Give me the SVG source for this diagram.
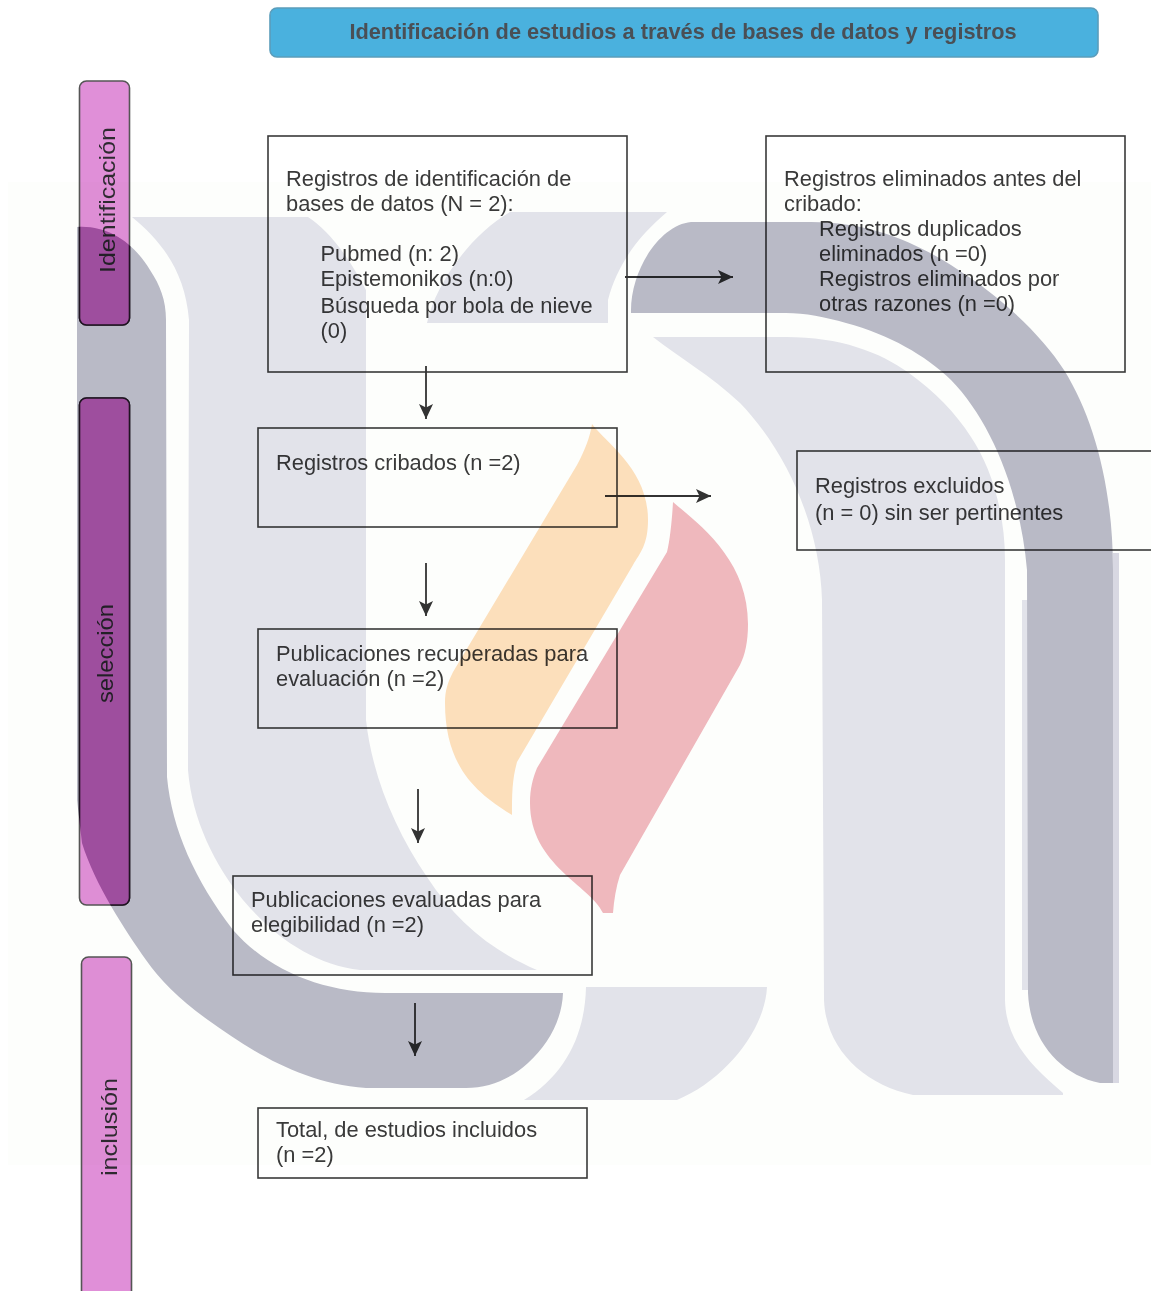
<svg xmlns="http://www.w3.org/2000/svg" width="1151" height="1291" viewBox="0 0 1151 1291">
<style>
.box{fill:none;stroke:#3a3a3a;stroke-width:1.6}
.bar{fill:#e08fd8;stroke:#555;stroke-width:1.6}
.bardark{fill:#da6acb;stroke:#2a1a2a;stroke-width:1.6}
text{font-family:"Liberation Sans",Arial,sans-serif;fill:#3a3a3a;font-size:21.85px}
.lbl{fill:#2e2a30;font-size:22.5px}
.head{font-weight:bold;font-size:21.75px;fill:#4a4f55}
.conn{stroke:#333;stroke-width:1.8;fill:none;marker-end:url(#arrow)}
.light{fill:#e2e3ea}
.dark{fill:#b9bac6}
</style>
<defs>
<marker id="arrow" markerUnits="userSpaceOnUse" markerWidth="16" markerHeight="16" refX="15" refY="7.500" orient="auto"><path d="M0,0.500 L15,7.500 L0,14.500 L3.500,7.500 Z" fill="#333"/></marker>
<path id="bandLeft" d="M77,227 C110,225 135,245 150,270 C160,285 166,300 166,320 L167,777 C172,830 195,880 233,930 C270,972 325,993 385,993 L563,993 C562,1020 548,1045 528,1063 C512,1078 490,1088 466,1088 L366,1088 C300,1083 250,1050 208,1020 C180,1000 160,980 146,960 C125,930 95,885 82,843 L77,800 Z"/>
<path id="bandRight" d="M631,313 C630,270 660,225 691,222 L811,222 C880,222 930,250 969,277 C1010,305 1045,340 1064,370 C1095,420 1113,490 1113,570 L1113,1083 L1100,1083 C1060,1075 1030,1040 1028,993 L1027,570 C1020,490 990,420 951,380 C925,355 890,335 846,323 C825,317 805,313 786,313 Z"/>
<clipPath id="bandClip"><use href="#bandLeft"/></clipPath>
</defs>
<rect width="1151" height="1291" fill="#ffffff"/>

<g id="header">
<rect x="270" y="8" width="828" height="49" rx="7" fill="#4ab1de" stroke="#5b9dbb" stroke-width="1.6"/>
<text class="head" x="683" y="39" text-anchor="middle">Identificación de estudios a través de bases de datos y registros</text>
</g>

<g id="bar-identificacion">
<rect class="bar" x="79.500" y="81" width="50" height="244" rx="7"/>
<rect class="bardark" x="79.500" y="81" width="50" height="244" rx="7" clip-path="url(#bandClip)"/>
<text class="lbl" transform="translate(115,273) rotate(-90)" textLength="146" lengthAdjust="spacingAndGlyphs">Identificación</text>
</g>
<g id="bar-seleccion">
<rect class="bar" x="79.500" y="398" width="50" height="507" rx="7"/>
<rect class="bardark" x="79.500" y="398" width="50" height="507" rx="7" clip-path="url(#bandClip)"/>
<text class="lbl" transform="translate(113,703) rotate(-90)" textLength="99" lengthAdjust="spacingAndGlyphs">selección</text>
</g>
<g id="bar-inclusion">
<rect class="bar" x="81.500" y="957" width="50" height="350" rx="7"/>
<text class="lbl" transform="translate(117,1176) rotate(-90)" textLength="98" lengthAdjust="spacingAndGlyphs">inclusión</text>
</g>

<g id="node-registros-identificacion">
<rect class="box" x="268" y="136" width="359" height="236"/>
<text x="286" y="186">Registros de identificación de</text>
<text x="286" y="211">bases de datos (N = 2):</text>
<text x="320.500" y="261">Pubmed (n: 2)</text>
<text x="320.500" y="286">Epistemonikos (n:0)</text>
<text x="320.500" y="313">Búsqueda por bola de nieve</text>
<text x="320.500" y="338">(0)</text>
</g>
<g id="node-registros-eliminados">
<rect class="box" x="766" y="136" width="359" height="236"/>
<text x="784" y="186">Registros eliminados antes del</text>
<text x="784" y="211">cribado:</text>
<text x="819" y="236">Registros duplicados</text>
<text x="819" y="261">eliminados (n =0)</text>
<text x="819" y="286">Registros eliminados por</text>
<text x="819" y="311">otras razones (n =0)</text>
</g>
<g id="node-registros-cribados">
<rect class="box" x="258" y="428" width="359" height="99"/>
<text x="276" y="470">Registros cribados (n =2)</text>
</g>
<g id="node-registros-excluidos">
<rect class="box" x="797" y="451" width="360" height="99"/>
<text x="815" y="493">Registros excluidos</text>
<text x="815" y="520">(n = 0) sin ser pertinentes</text>
</g>
<g id="node-publicaciones-recuperadas">
<rect class="box" x="258" y="629" width="359" height="99"/>
<text x="276" y="661">Publicaciones recuperadas para</text>
<text x="276" y="686">evaluación (n =2)</text>
</g>
<g id="node-publicaciones-evaluadas">
<rect class="box" x="233" y="876" width="359" height="99"/>
<text x="251" y="907">Publicaciones evaluadas para</text>
<text x="251" y="932">elegibilidad (n =2)</text>
</g>
<g id="node-total">
<rect class="box" x="258" y="1108" width="329" height="70"/>
<text x="276" y="1137">Total, de estudios incluidos</text>
<text x="276" y="1162">(n =2)</text>
</g>

<g id="connectors">
<line class="conn" x1="426" y1="366" x2="426" y2="419"/>
<line class="conn" x1="625" y1="277" x2="733" y2="277"/>
<line class="conn" x1="605" y1="496" x2="711" y2="496"/>
<line class="conn" x1="426" y1="563" x2="426" y2="616"/>
<line class="conn" x1="418" y1="789" x2="418" y2="843"/>
<line class="conn" x1="415" y1="1003" x2="415" y2="1056"/>
</g>

<g id="watermark" style="mix-blend-mode:multiply">
<rect x="8" y="182" width="1143" height="983" fill="#fdfefc"/>
<path class="light" d="M132,217 L308,217 C325,228 345,250 366,290 L366,720 C372,775 395,830 427,877 C455,920 490,950 537,970 L360,970 C315,965 275,938 243,900 C215,865 192,820 188,770 L189,320 C185,270 160,240 132,217 Z"/>
<path class="light" d="M510,212 L667,212 C640,235 618,262 608,300 L608,323 L427,323 C435,285 470,235 510,212 Z"/>
<path class="light" d="M653,337 L786,337 C840,337 880,352 909,373 C935,392 955,412 971,437 C990,465 1005,510 1005,560 L1005,1000 C1006,1040 1030,1065 1063,1093 L1063,1095 L913,1095 C865,1085 826,1050 824,1000 L822,600 C820,530 790,455 740,403 C710,375 680,358 653,337 Z"/>
<path class="light" d="M586,987 L767,987 C765,1030 725,1080 677,1100 L524,1100 C565,1075 585,1035 586,987 Z"/>
<rect x="1113" y="553" width="6" height="530" fill="#d8d8e2"/>
<rect x="1022" y="600" width="6" height="390" fill="#e2e3ea"/>
<use href="#bandRight" class="dark"/>
<use href="#bandLeft" class="dark"/>
<path fill="#fcdfbb" d="M592,424 C608,445 648,470 648,520 C648,545 640,553 633,565 L517,762 C512,780 512,795 512,815 C480,795 445,770 445,703 C445,690 448,682 453,672 L577,465 C585,450 590,437 592,424 Z"/>
<path fill="#efb8bd" d="M673,502 C700,525 748,560 748,624 C748,642 745,655 740,665 L620,875 C616,887 614,900 613,913 L603,913 C590,885 530,865 530,803 C530,788 533,778 537,768 L667,552 C670,540 672,520 673,502 Z"/>
</g>
</svg>
